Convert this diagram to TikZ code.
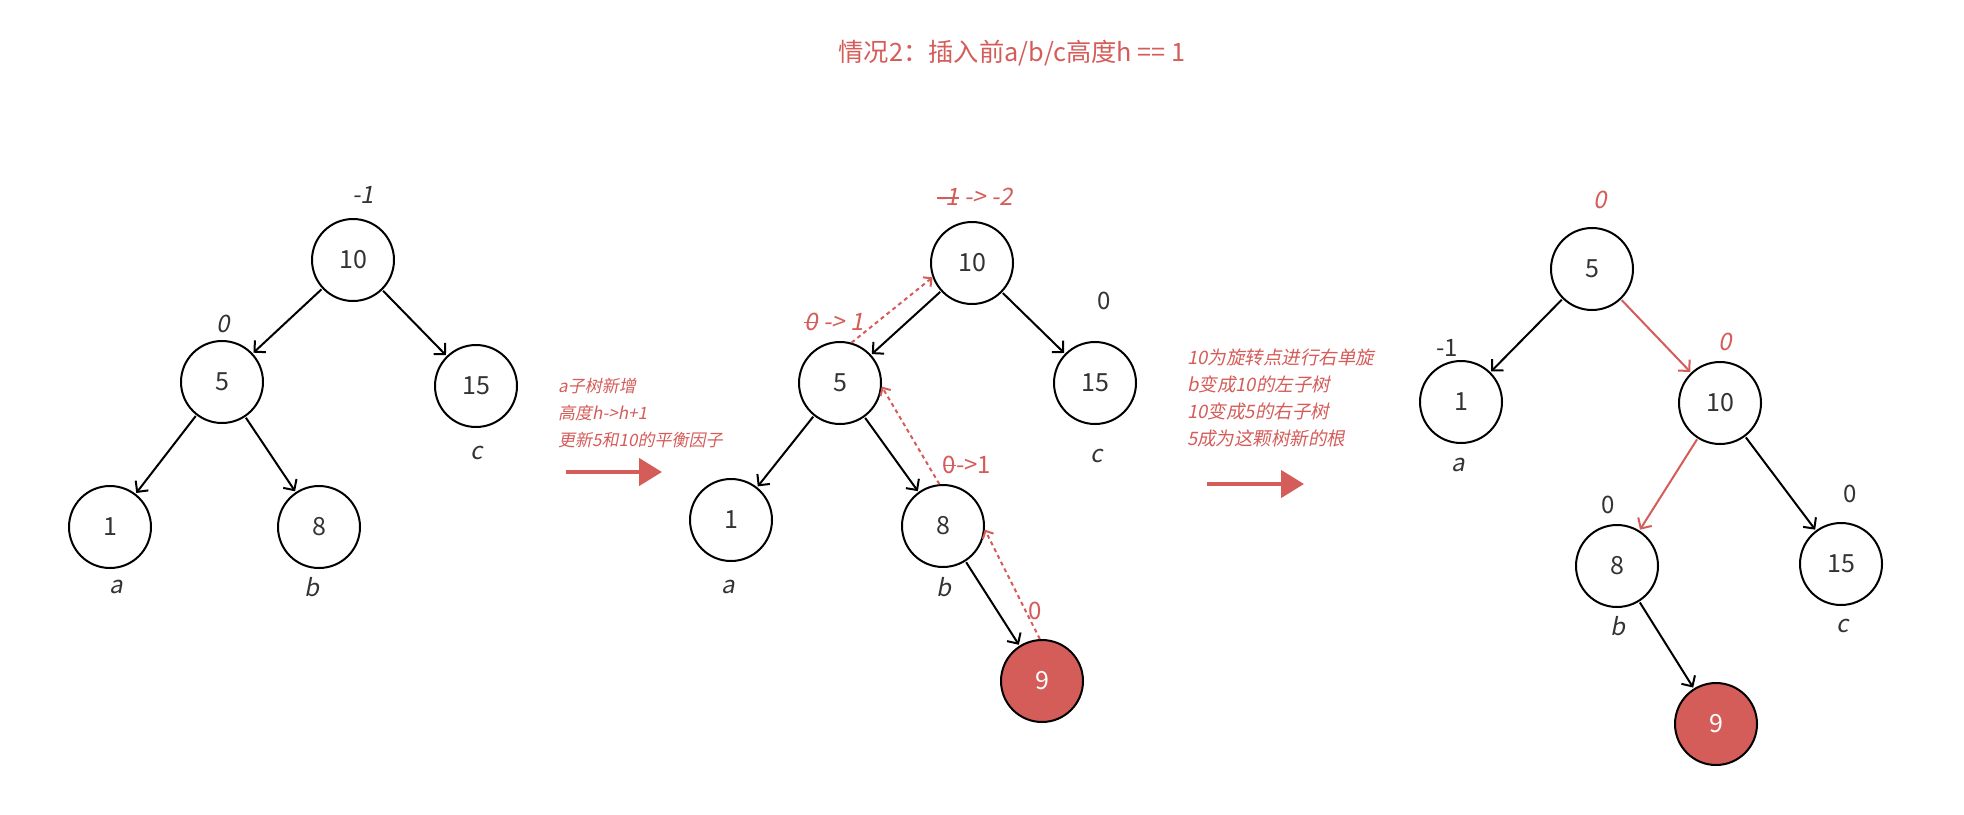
\documentclass[tikz,border=0pt]{standalone}
\usepackage{fontspec}
\setmainfont{Noto Sans CJK SC}
\newfontfamily\cjkit[FakeSlant=0.2]{Noto Sans CJK SC}
\newcommand\strk[1]{\begingroup\setbox0=\hbox{#1}\rlap{\copy0}\rule[0.3em]{\wd0}{1.6pt}\endgroup}
\usetikzlibrary{arrows.meta}
\definecolor{myred}{HTML}{D45C59}
\definecolor{ink}{HTML}{333333}
\tikzset{
  tn/.style={circle, draw=black, line width=2pt, minimum size=82pt, inner sep=0pt, font=\fontsize{25}{29}\selectfont, text=ink},
  hot/.style={tn, fill=myred, text=white},
  lab/.style={inner sep=0pt, font=\cjkit\fontsize{24}{28}\selectfont, text=ink},
  ulab/.style={inner sep=0pt, font=\fontsize{24}{28}\selectfont, text=ink},
  rlab/.style={lab, text=myred},
  rulab/.style={ulab, text=myred},
  edge/.style={-{Straight Barb[length=8pt,width=16pt,line width=2pt]}, line width=2pt, shorten >=1pt, shorten <=1pt},
  redge/.style={edge, draw=myred},
  dotarrow/.style={draw=myred, line width=2pt, dash pattern=on 4pt off 3.5pt, -{Straight Barb[length=6pt,width=12pt,line width=2pt]}},
  bigarrow/.style={draw=myred, line width=4.5pt, -{Triangle[length=23pt,width=27pt]}},
  note/.style={inner sep=0pt, align=left, text=myred, font=\cjkit\fontsize{17}{27}\selectfont},
}
\begin{document}
\begin{tikzpicture}[x=1pt, y=-1pt]
\useasboundingbox (0,0) rectangle (1964,814);
% title
\node[inner sep=0pt, text=myred, font=\fontsize{25.3}{29}\selectfont] (title) at (1012,53) {情况2：插入前a/b/c高度h == 1};

% ---------- tree 1
\node[tn] (a10) at (353,260) {10};
\node[tn] (a5) at (222,382) {5};
\node[tn] (a15) at (476,386) {15};
\node[tn] (a1) at (110,527) {1};
\node[tn] (a8) at (319,527) {8};
\draw[edge] (a10) -- (a5);
\draw[edge] (a10) -- (a15);
\draw[edge] (a5) -- (a1);
\draw[edge] (a5) -- (a8);
\node[lab] (a10f) at (363,195) {-1};
\node[lab] (a5f) at (223,324) {0};
\node[lab] (alc) at (477,453) {c};
\node[lab] (ala) at (116,587) {a};
\node[lab] (alb) at (312,587) {b};

% arrow 1 + note
\coordinate (ar1s) at (566,472);
\coordinate (ar1e) at (662,472);
\draw[bigarrow] (ar1s) -- (ar1e);
\node[note, anchor=west] (note1) at (558,413) {a子树新增\\高度h->h+1\\更新5和10的平衡因子};

% ---------- tree 2
\node[tn] (b10) at (972,263) {10};
\node[tn] (b5) at (840,383) {5};
\node[tn] (b15) at (1095,383) {15};
\node[tn] (b1) at (731,520) {1};
\node[tn] (b8) at (943,526) {8};
\node[hot] (b9) at (1042,681) {9};
\draw[edge] (b10) -- (b5);
\draw[edge] (b10) -- (b15);
\draw[edge] (b5) -- (b1);
\draw[edge] (b5) -- (b8);
\draw[edge] (b8) -- (b9);
\draw[dotarrow] (b5.74) -- (b10.200);
\draw[dotarrow] (b8.95) -- (b5.-5);
\draw[dotarrow] (b9.93) -- (b8.-5);
\node[rlab] (b10f) at (975,197) {\strk{-1} -> -2};
\node[rlab] (b5f) at (834,322) {\strk{0} -> 1};
\node[rulab] (b8f) at (967,465) {\strk{0}->1};
\node[rulab] (b9f) at (1035,611) {0};
\node[ulab] (b15f) at (1104,301) {0};
\node[lab] (blc) at (1097,456) {c};
\node[lab] (bla) at (728,587) {a};
\node[lab] (blb) at (944,587) {b};

% arrow 2 + note
\coordinate (ar2s) at (1207,484);
\coordinate (ar2e) at (1304,484);
\draw[bigarrow] (ar2s) -- (ar2e);
\node[note, anchor=west, font=\cjkit\fontsize{18.5}{27}\selectfont] (note2) at (1187,398) {10为旋转点进行右单旋\\b变成10的左子树\\10变成5的右子树\\5成为这颗树新的根};

% ---------- tree 3
\node[tn] (c5) at (1592,269) {5};
\node[tn] (c1) at (1461,402) {1};
\node[tn] (c10) at (1720,403) {10};
\node[tn] (c8) at (1617,566) {8};
\node[tn] (c15) at (1841,564) {15};
\node[hot] (c9) at (1716,724) {9};
\draw[edge] (c5) -- (c1);
\draw[redge] (c5) -- (c10);
\draw[redge] (c10) -- (c8);
\draw[edge] (c10) -- (c15);
\draw[edge] (c8) -- (c9);
\node[rlab] (c5f) at (1600,200) {0};
\node[ulab] (c1f) at (1447,348) {-1};
\node[rlab] (c10f) at (1725,342) {0};
\node[ulab] (c8f) at (1608,505) {0};
\node[ulab] (c15f) at (1850,494) {0};
\node[lab] (cla) at (1458,465) {a};
\node[lab] (clb) at (1618,626) {b};
\node[lab] (clc) at (1843,626) {c};
\end{tikzpicture}
\end{document}
